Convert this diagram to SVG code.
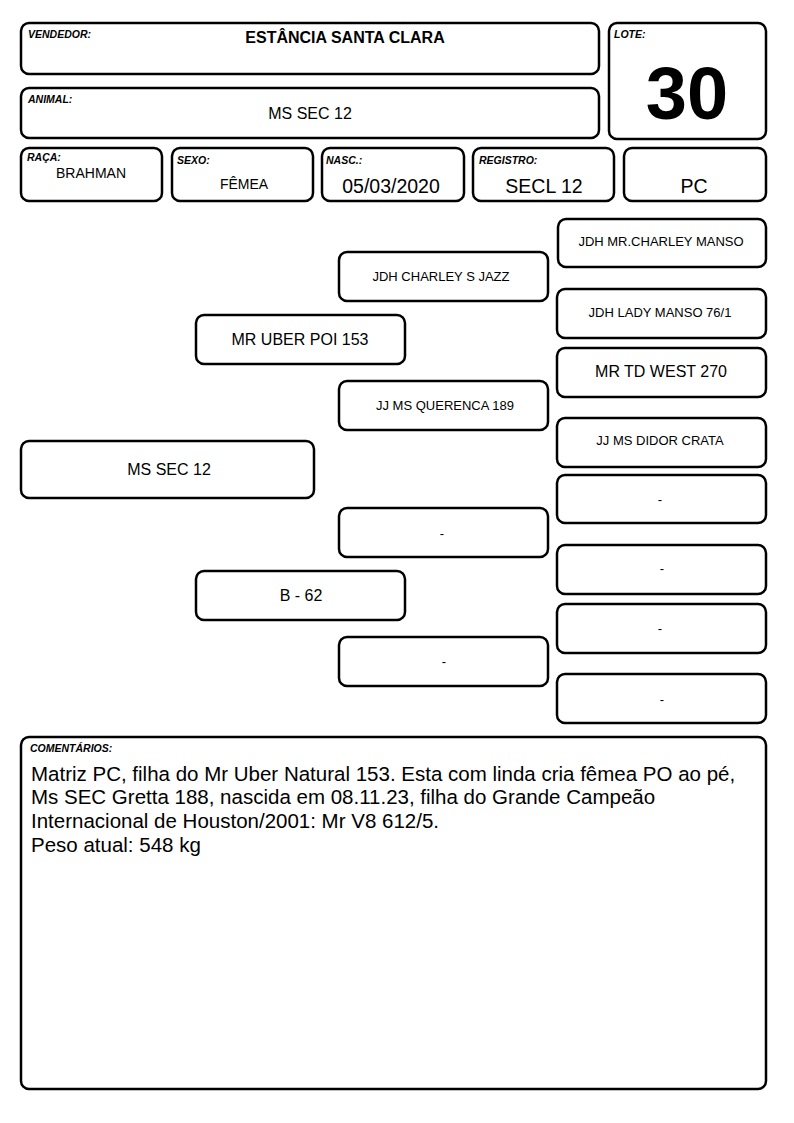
<svg xmlns="http://www.w3.org/2000/svg" width="794" height="1123" viewBox="0 0 794 1123">
<style>
.b{fill:#fff;stroke:#000;stroke-width:2.5}
.l{font-family:"Liberation Sans",Arial,sans-serif;font-size:10.5px;font-weight:bold;font-style:italic;fill:#000}
.t{font-family:"Liberation Sans",Arial,sans-serif;fill:#000;text-anchor:middle}
.s{font-size:13px}
.m{font-size:16px}
.g{font-size:19.5px}
.c{font-family:"Liberation Sans",Arial,sans-serif;font-size:20.5px;fill:#000}
</style>
<rect width="794" height="1123" fill="#fff"/>
<g id="vendedor"><rect class="b" x="21" y="23" width="578" height="51" rx="8"/><text class="l" x="28" y="38">VENDEDOR:</text><text class="t" x="345" y="43" font-size="16" font-weight="bold">ESTÂNCIA SANTA CLARA</text></g>
<g id="animal"><rect class="b" x="21" y="88" width="578" height="50" rx="8"/><text class="l" x="28" y="103">ANIMAL:</text><text class="t m" x="310" y="119">MS SEC 12</text></g>
<g id="lote"><rect class="b" x="609" y="23" width="157" height="116" rx="8"/><text class="l" x="614" y="38">LOTE:</text><text class="t" x="687" y="119" font-size="74" font-weight="bold">30</text></g>
<g id="raca"><rect class="b" x="21" y="148" width="141" height="53" rx="8"/><text class="l" x="27" y="161">RAÇA:</text><text class="t" x="91" y="178" font-size="14">BRAHMAN</text></g>
<g id="sexo"><rect class="b" x="172" y="148" width="141" height="53" rx="8"/><text class="l" x="177" y="164">SEXO:</text><text class="t" x="244" y="189" font-size="14">FÊMEA</text></g>
<g id="nasc"><rect class="b" x="322" y="148" width="142" height="53" rx="8"/><text class="l" x="326" y="164">NASC.:</text><text class="t g" x="391" y="193">05/03/2020</text></g>
<g id="registro"><rect class="b" x="473" y="148" width="141" height="53" rx="8"/><text class="l" x="479" y="164">REGISTRO:</text><text class="t g" x="544" y="193">SECL 12</text></g>
<g id="categoria"><rect class="b" x="624" y="148" width="142" height="53" rx="8"/><text class="t g" x="694" y="193">PC</text></g>
<g id="connectors"></g>
<g id="p0"><rect class="b" x="21" y="441" width="293" height="57" rx="8"/><text class="t m" x="169" y="475">MS SEC 12</text></g>
<g id="p1"><rect class="b" x="196" y="315" width="209" height="49" rx="8"/><text class="t m" x="300" y="345">MR UBER POI 153</text></g>
<g id="p2"><rect class="b" x="196" y="571" width="209" height="49" rx="8"/><text class="t m" x="301" y="601">B - 62</text></g>
<g id="p3"><rect class="b" x="339" y="252" width="209" height="49" rx="8"/><text class="t s" x="441" y="281">JDH CHARLEY S JAZZ</text></g>
<g id="p4"><rect class="b" x="339" y="381" width="209" height="49" rx="8"/><text class="t s" x="445" y="410">JJ MS QUERENCA 189</text></g>
<g id="p5"><rect class="b" x="339" y="508" width="209" height="49" rx="8"/><text class="t s" x="442" y="538">-</text></g>
<g id="p6"><rect class="b" x="339" y="637" width="209" height="49" rx="8"/><text class="t s" x="444" y="666">-</text></g>
<g id="p7"><rect class="b" x="558" y="219" width="208" height="48" rx="8"/><text class="t s" x="661" y="246">JDH MR.CHARLEY MANSO</text></g>
<g id="p8"><rect class="b" x="557" y="289" width="209" height="49" rx="8"/><text class="t s" x="660" y="317">JDH LADY MANSO 76/1</text></g>
<g id="p9"><rect class="b" x="557" y="348" width="209" height="49" rx="8"/><text class="t m" x="661" y="377">MR TD WEST 270</text></g>
<g id="p10"><rect class="b" x="557" y="418" width="209" height="49" rx="8"/><text class="t s" x="660" y="445">JJ MS DIDOR CRATA</text></g>
<g id="p11"><rect class="b" x="557" y="475" width="209" height="48" rx="8"/><text class="t s" x="660" y="504">-</text></g>
<g id="p12"><rect class="b" x="557" y="545" width="209" height="49" rx="8"/><text class="t s" x="662" y="573">-</text></g>
<g id="p13"><rect class="b" x="557" y="604" width="209" height="49" rx="8"/><text class="t s" x="660" y="633">-</text></g>
<g id="p14"><rect class="b" x="557" y="674" width="209" height="49" rx="8"/><text class="t s" x="662" y="704">-</text></g>
<g id="comentarios"><rect class="b" x="21" y="737" width="745" height="352" rx="8"/><text class="l" x="30" y="752" font-size="11px">COMENTÁRIOS:</text>
<text class="c" x="31" y="781">Matriz PC, filha do Mr Uber Natural 153. Esta com linda cria fêmea PO ao pé,</text>
<text class="c" x="31" y="804">Ms SEC Gretta 188, nascida em 08.11.23, filha do Grande Campeão</text>
<text class="c" x="31" y="828">Internacional de Houston/2001: Mr V8 612/5.</text>
<text class="c" x="31" y="852">Peso atual: 548 kg</text></g>
</svg>
